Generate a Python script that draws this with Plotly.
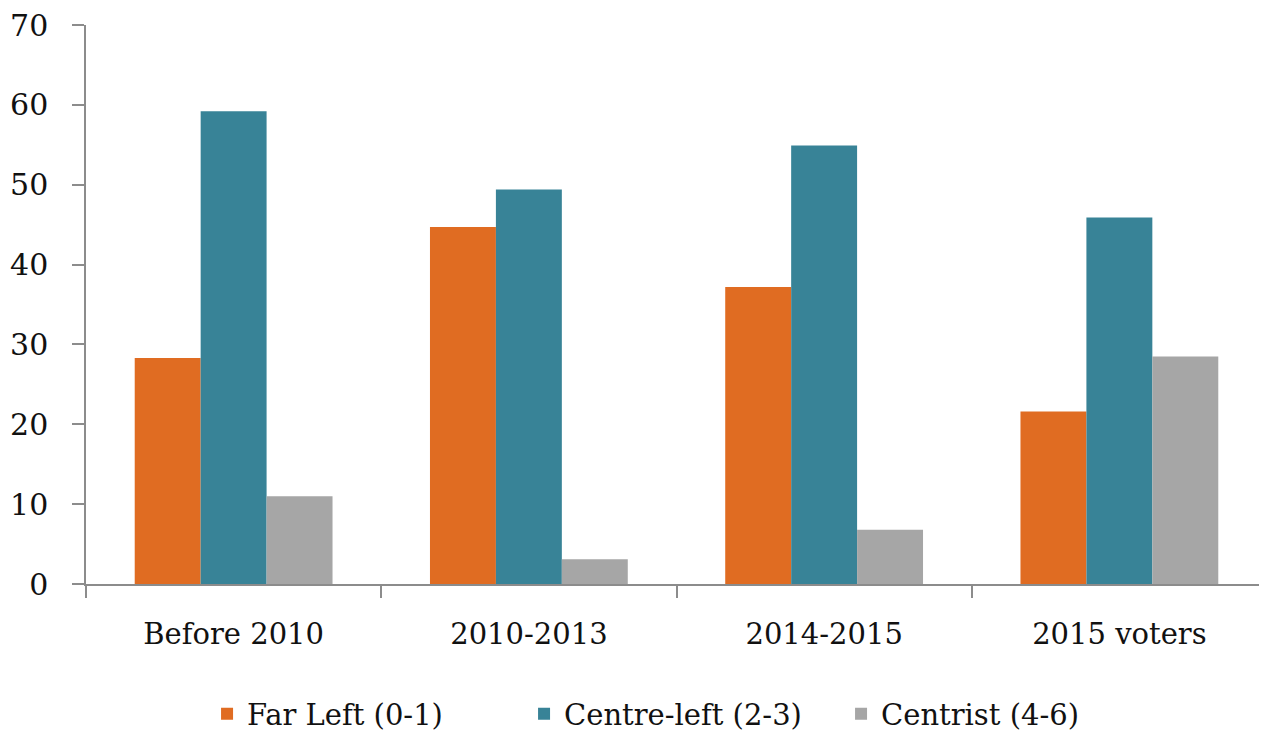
import plotly.graph_objects as go

categories = ["Before 2010", "2010-2013", "2014-2015", "2015 voters"]
far_left = [28.3, 44.7, 37.2, 21.6]
centre_left = [59.2, 49.4, 54.9, 45.9]
centrist = [11.0, 3.1, 6.8, 28.5]
series_names = ["Far Left (0-1)", "Centre-left (2-3)", "Centrist (4-6)"]
colors = ["#E06C22", "#388397", "#A6A6A6"]

fig = go.Figure()
for name, vals, col in zip(series_names, [far_left, centre_left, centrist], colors):
    fig.add_trace(go.Bar(x=categories, y=vals, name=name, marker=dict(color=col, line=dict(width=0))))

tick_font = "DejaVu Serif, Liberation Serif, serif"
fig.update_layout(
    width=1259, height=724,
    margin=dict(l=78, r=0, t=17, b=148),
    paper_bgcolor="white", plot_bgcolor="white",
    barmode="group", bargap=0.33, bargroupgap=0,
    font=dict(family=tick_font, color="#111111"),
    showlegend=True,
    legend=dict(orientation="h", xref="paper", x=0.1025, xanchor="left",
                yref="container", y=0.025, yanchor="middle",
                font=dict(size=29, family=tick_font, color="#111111"),
                entrywidth=272, traceorder="normal"),
)
fig.update_yaxes(range=[0, 70], dtick=10, showgrid=False, zeroline=False, automargin=False,
                 showline=True, linecolor="#8c8c8c", linewidth=1.5,
                 ticks="outside", ticklen=12, tickcolor="#8c8c8c", tickwidth=1.5,
                 ticklabelstandoff=18, ticklabeloverflow="allow",
                 tickfont=dict(size=30, family=tick_font, color="#111111"))
fig.update_xaxes(showgrid=False, showline=True, linecolor="#8c8c8c", linewidth=1.5, automargin=False,
                 ticks="outside", tickson="boundaries", ticklen=12, tickcolor="#8c8c8c", tickwidth=1.5,
                 ticklabelstandoff=23, ticklabeloverflow="allow",
                 tickfont=dict(size=29, family=tick_font, color="#111111"))

fig.write_html("out.html")
